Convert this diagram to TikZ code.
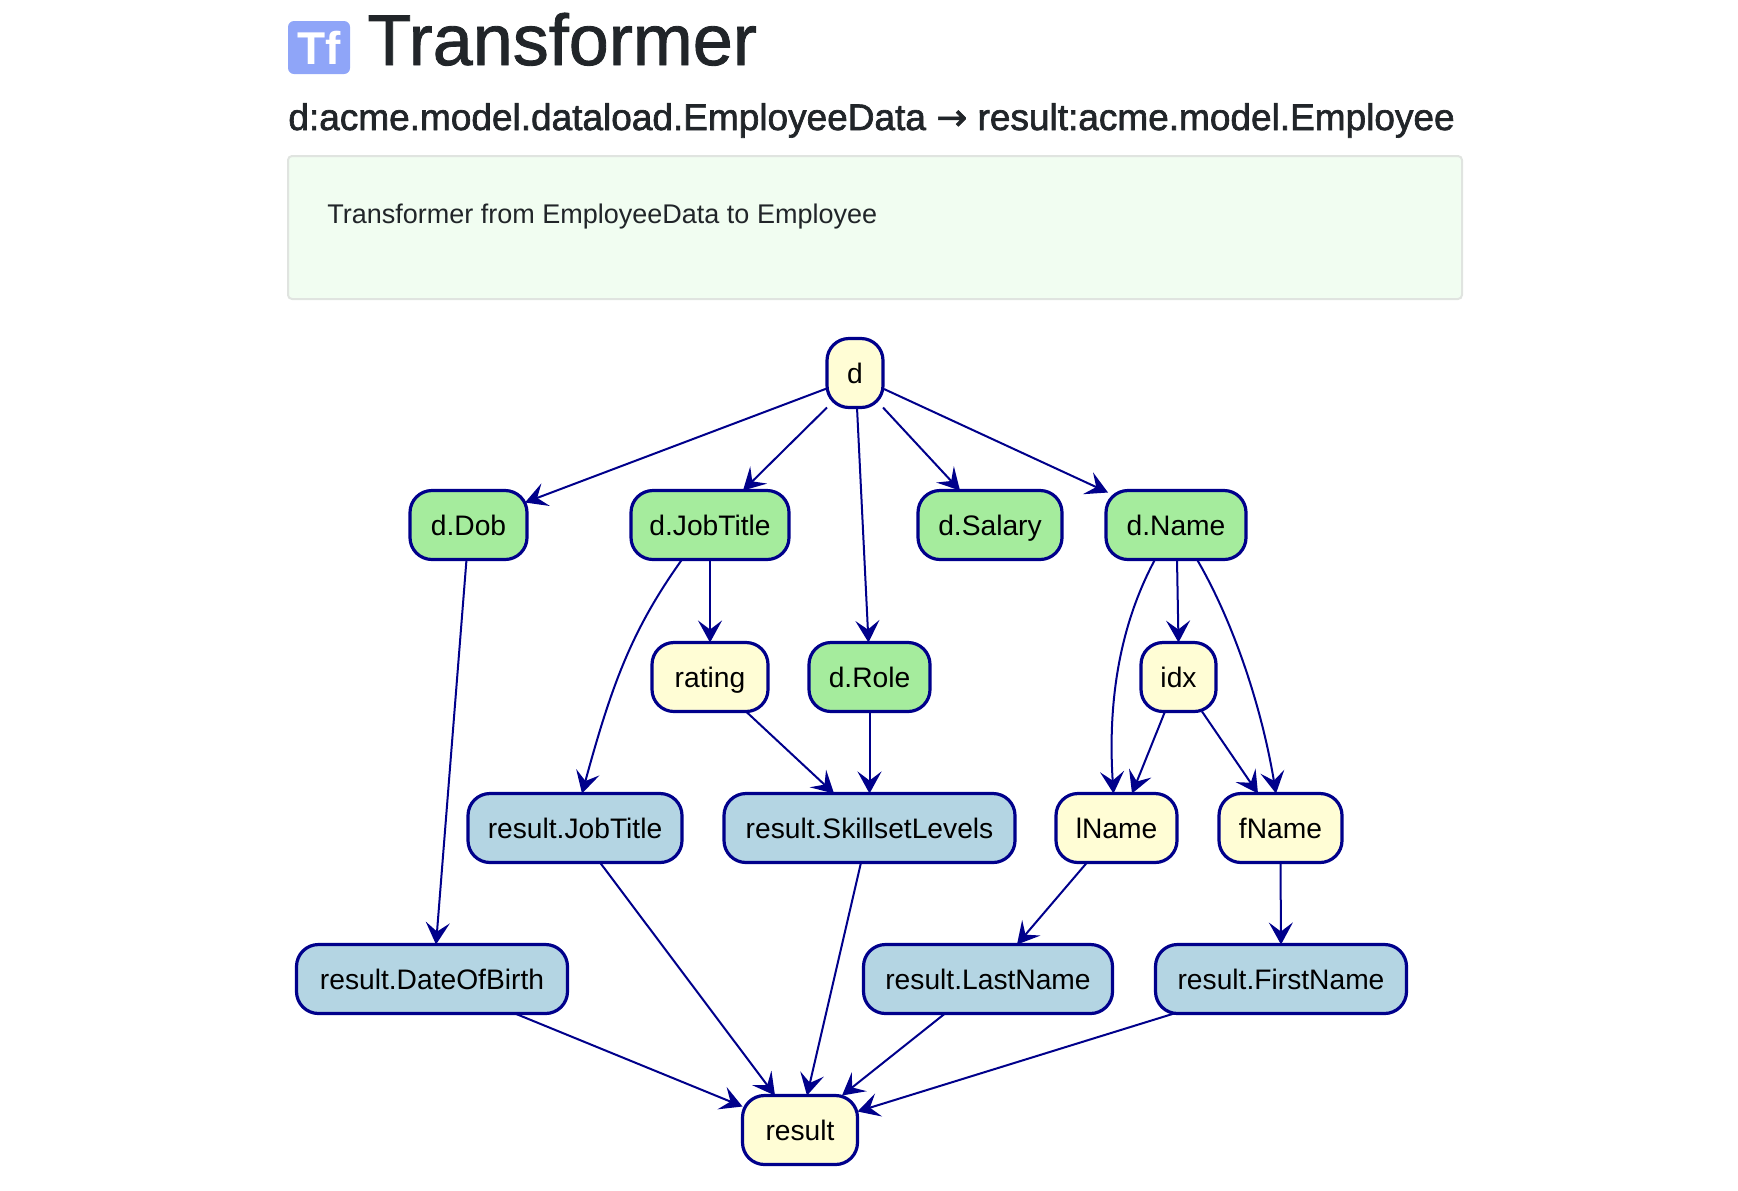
\documentclass[tikz,border=0pt]{standalone}
\usepackage{fontspec}
\setmainfont{Liberation Sans}
\newfontfamily\headfont[FakeBold=1.2]{Liberation Sans}
\newfontfamily\subfont[FakeBold=1.8]{Liberation Sans}
\newfontfamily\arrowfont[FakeBold=1.5]{DejaVu Sans}
\usetikzlibrary{arrows.meta,calc}
\definecolor{edgeblue}{HTML}{00008B}
\definecolor{yellownode}{HTML}{FFFDD5}
\definecolor{greennode}{HTML}{A5EC9D}
\definecolor{bluenode}{HTML}{B4D5E3}
\definecolor{headtext}{HTML}{212529}
\tikzset{
  tfnode/.style={draw=edgeblue, line width=1.6pt, rounded corners=11pt, outer sep=0pt,
    minimum height=34.5pt, inner sep=0pt, text=black, text height=12.2pt, text depth=2pt,
    font=\fontsize{14.1}{16}\selectfont},
  yellowbox/.style={tfnode, fill=yellownode},
  greenbox/.style={tfnode, fill=greennode},
  bluebox/.style={tfnode, fill=bluenode},
  edge/.style={draw=edgeblue, line width=1pt, -{Stealth[length=11pt,width=12pt,inset=4.5pt]}},
  headtxt/.style={anchor=base west, inner sep=0pt, text=headtext}
}
\begin{document}
\begin{tikzpicture}[x=0.5pt,y=-0.5pt]
  \useasboundingbox (0,0) rectangle (1738,1190);

  \node (icon) [fill={rgb,255:red,143;green,165;blue,248}, rounded corners=3pt, minimum width=31pt, minimum height=26.5pt, inner sep=0pt, text=white, font=\bfseries\fontsize{23}{26}\selectfont] at (319,47.5) {Tf};
  \node (title) [headtxt, font=\headfont\fontsize{36}{40}\selectfont] at (367,65) {Transformer};
  \node (subtitle) [headtxt, font=\subfont\fontsize{18.5}{20}\selectfont] at (288,130) {d:acme.model.dataload.EmployeeData {\arrowfont →} result:acme.model.Employee};
  \node (panel) [draw={rgb,255:red,224;green,228;blue,224}, fill={rgb,255:red,241;green,253;blue,241}, line width=1pt, rounded corners=2pt, minimum width=587pt, minimum height=71.5pt, inner sep=0pt] at (875,227.5) {};
  \node (desc) [headtxt, font=\fontsize{13.5}{16}\selectfont] at (327,223) {Transformer from EmployeeData to Employee};

  \node (d) [yellowbox, minimum width=28pt] at (855,373) {d};
  \node (dDob) [greenbox, minimum width=58.5pt] at (468.5,525) {d.Dob};
  \node (dJobTitle) [greenbox, minimum width=79pt] at (710,525) {d.JobTitle};
  \node (dSalary) [greenbox, minimum width=72pt] at (990,525) {d.Salary};
  \node (dName) [greenbox, minimum width=70pt] at (1176,525) {d.Name};
  \node (rating) [yellowbox, minimum width=58pt] at (710,677) {rating};
  \node (dRole) [greenbox, minimum width=60.5pt] at (869.5,677) {d.Role};
  \node (idx) [yellowbox, minimum width=37.5pt] at (1178.5,677) {idx};
  \node (resJobTitle) [bluebox, minimum width=107pt] at (575,828) {result.JobTitle};
  \node (resSkillset) [bluebox, minimum width=145.5pt] at (869.5,828) {result.SkillsetLevels};
  \node (lName) [yellowbox, minimum width=60.5pt] at (1116.5,828) {lName};
  \node (fName) [yellowbox, minimum width=61.5pt] at (1280.5,828) {fName};
  \node (resDob) [bluebox, minimum width=135.5pt] at (432,979) {result.DateOfBirth};
  \node (resLastName) [bluebox, minimum width=124.5pt] at (988,979) {result.LastName};
  \node (resFirstName) [bluebox, minimum width=125.5pt] at (1281,979) {result.FirstName};
  \node (result) [yellowbox, minimum width=57.5pt] at (800,1130) {result};

  \draw [edge] ($(d.west)+(1,15)$) -- ($(dDob.north east)+(-2,12)$);
  \draw [edge] (d.south west) -- ($(dJobTitle.north)+(33,0)$);
  \draw [edge] (d.south east) -- ($(dSalary.north)+(-30,0)$);
  \draw [edge] ($(d.east)+(1,16)$) -- ($(dName.north west)+(2,2)$);
  \draw [edge] ($(d.south)+(2,0)$) -- ($(dRole.north)+(-1,0)$);

  \draw [edge] ($(dDob.south)+(-2,0)$) -- ($(resDob.north)+(4,0)$);
  \draw [edge] (dJobTitle.south) -- (rating.north);
  \draw [edge] ($(dJobTitle.south)+(-28,0)$) .. controls +(-50,70) and +(30,-110) .. ($(resJobTitle.north)+(7,0)$);
  \draw [edge] ($(rating.south)+(36,0)$) -- ($(resSkillset.north)+(-35.5,0)$);
  \draw [edge] (dRole.south) -- (resSkillset.north);

  \draw [edge] ($(dName.south)+(-21,0)$) .. controls +(-35,65) and +(-6,-93) .. ($(lName.north)+(-3,0)$);
  \draw [edge] ($(dName.south)+(1,0)$) -- (idx.north);
  \draw [edge] ($(dName.south)+(21,0)$) .. controls +(35,60) and +(-15,-90) .. ($(fName.north)+(-4.5,0)$);
  \draw [edge] ($(idx.south)+(-13.5,0)$) -- ($(lName.north)+(15.5,0)$);
  \draw [edge] ($(idx.south)+(23.5,0)$) -- ($(fName.north)+(-22.5,0)$);

  \draw [edge] ($(lName.south)+(-29.5,0)$) -- ($(resLastName.north)+(29,0)$);
  \draw [edge] (fName.south) -- (resFirstName.north);

  \draw [edge] ($(resJobTitle.south)+(25,0)$) -- ($(result.north)+(-25,0)$);
  \draw [edge] ($(resSkillset.south)+(-8.5,0)$) -- ($(result.north)+(7,0)$);
  \draw [edge] ($(resDob.south)+(83,0)$) -- ($(result.north west)+(0,11)$);
  \draw [edge] ($(resLastName.south)+(-43,0)$) -- ($(result.north)+(42,0)$);
  \draw [edge] ($(resFirstName.south)+(-107,0)$) -- ($(result.north east)+(0,16)$);
\end{tikzpicture}
\end{document}
